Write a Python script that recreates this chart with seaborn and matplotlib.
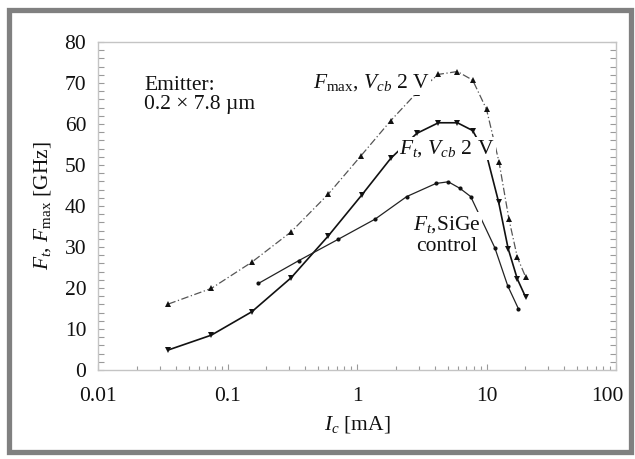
import matplotlib
matplotlib.use("Agg")
import matplotlib.pyplot as plt
from matplotlib.patches import Rectangle
from matplotlib.transforms import ScaledTranslation
from matplotlib.ticker import LogLocator, MultipleLocator, FixedFormatter, FixedLocator
import seaborn as sns

# Collector current (mA) and cut-off / max oscillation frequencies (GHz)
ic_fmax = [0.035, 0.075, 0.154, 0.31, 0.60, 1.07, 1.82, 2.89, 4.25, 5.96, 7.82,
           10.0, 12.5, 14.9, 17.3, 20.1]
fmax_vcb2 = [16.1, 19.9, 26.3, 33.7, 42.9, 52.2, 60.8, 67.6, 72.1, 72.8, 70.7,
             63.6, 50.7, 36.8, 27.5, 22.6]

ic_ft = [0.035, 0.075, 0.154, 0.31, 0.60, 1.09, 1.82, 2.89, 4.25, 5.96, 7.82,
         10.1, 12.4, 14.7, 17.3, 20.1]
ft_vcb2 = [4.9, 8.5, 14.2, 22.5, 32.7, 42.7, 51.6, 57.7, 60.3, 60.3, 58.4,
           52.0, 41.0, 29.6, 22.2, 17.7]

ic_sige = [0.173, 0.356, 0.718, 1.38, 2.42, 4.07, 5.07, 6.24, 7.55, 11.6, 14.6, 17.6]
ft_sige = [21.1, 26.7, 31.9, 36.8, 42.3, 45.5, 45.9, 44.3, 42.3, 29.8, 20.5, 15.0]

x_ticks = [0.01, 0.1, 1, 10, 100]
x_tick_labels = ["0.01", "0.1", "1", "10", "100"]

sns.set_theme(style="white")
plt.rcParams["font.family"] = ["Liberation Serif", "DejaVu Serif"]
plt.rcParams["mathtext.fontset"] = "custom"
plt.rcParams["mathtext.rm"] = "Liberation Serif"
plt.rcParams["mathtext.it"] = "Liberation Serif:italic"
plt.rcParams["mathtext.bf"] = "Liberation Serif:bold"

FS = 15.5
W, H = 635, 459
fig = plt.figure(figsize=(W / 100, H / 100), dpi=100)
fig.patch.set_facecolor("white")
ax = fig.add_axes([98 / W, (H - 370) / H, 518 / W, 328 / H])

sns.lineplot(x=ic_fmax, y=fmax_vcb2, ax=ax, color="#555555", lw=0.9,
             linestyle=(0, (6, 2, 1, 2)), marker="^", markersize=5,
             markeredgewidth=0, markerfacecolor="#111111")
sns.lineplot(x=ic_ft, y=ft_vcb2, ax=ax, color="#111111", lw=1.2,
             marker="v", markersize=5, markeredgewidth=0,
             markerfacecolor="#111111")
sns.lineplot(x=ic_sige, y=ft_sige, ax=ax, color="#222222", lw=0.9,
             marker="o", markersize=3, markeredgewidth=0,
             markerfacecolor="#111111")

ax.set_xscale("log")
ax.set_xlim(0.01, 100)
ax.set_ylim(0, 80)
ax.xaxis.set_major_locator(FixedLocator(x_ticks))
ax.xaxis.set_major_formatter(FixedFormatter(x_tick_labels))
ax.xaxis.set_minor_locator(LogLocator(base=10, subs=range(2, 10)))
ax.yaxis.set_major_locator(MultipleLocator(10))
ax.yaxis.set_minor_locator(MultipleLocator(2))

for side in ["left", "right", "top", "bottom"]:
    ax.spines[side].set_color("#c4c4c4")
    ax.spines[side].set_linewidth(1.0)

ax.tick_params(axis="x", which="both", direction="in", bottom=True, top=False,
               colors="#9a9a9a", labelcolor="#111111", labelsize=FS, pad=12)
ax.tick_params(axis="x", which="major", length=4, width=0.8)
ax.tick_params(axis="x", which="minor", length=3, width=0.8)
ax.tick_params(axis="y", which="both", direction="in", left=True, right=True,
               colors="#9a9a9a", labelcolor="#111111", labelsize=FS, pad=8.5,
               length=4, width=0.8)

ax.set_xlabel(r"$I_c$ [mA]", fontsize=FS, color="#111111", labelpad=6)
ax.set_ylabel(r"$F_t$, $F_{\mathrm{max}}$ [GHz]", fontsize=FS, color="#111111",
              labelpad=8)
ax.grid(False)

# nudge the outermost x tick label inward so it clears the frame
fig.canvas.draw()
last = ax.get_xticklabels()[-1]
last.set_transform(last.get_transform() + ScaledTranslation(-9 / 100, 0, fig.dpi_scale_trans))

box = dict(facecolor="white", edgecolor="none", pad=1.0)
ax.text(0.089, 0.838, "Emitter:\n0.2 × 7.8 µm", transform=ax.transAxes,
        fontsize=FS, ha="left", va="center", color="#111111",
        linespacing=1.05, zorder=5)
ax.text(0.4145, 0.875, r"$F_{\mathrm{max}}$, $V_{cb}$ 2 V", transform=ax.transAxes,
        fontsize=FS, ha="left", va="center", color="#111111", bbox=box, zorder=5)
ax.text(0.581, 0.676, r"$F_t$, $V_{cb}$ 2 V", transform=ax.transAxes,
        fontsize=FS, ha="left", va="center", color="#111111", bbox=box, zorder=5)
ax.text(0.674, 0.412, "$F_t$,SiGe\ncontrol", transform=ax.transAxes,
        fontsize=FS, ha="center", va="center", color="#111111",
        multialignment="center", linespacing=1.1, bbox=box, zorder=5)

# grey frame around the whole figure
fig.patches.append(Rectangle((9 / W, (H - 451.5) / H), 622 / W, 442 / H,
                             transform=fig.transFigure, fill=False,
                             edgecolor="#808080", linewidth=3.8))

fig.savefig("out.png", dpi=100, facecolor="white")
